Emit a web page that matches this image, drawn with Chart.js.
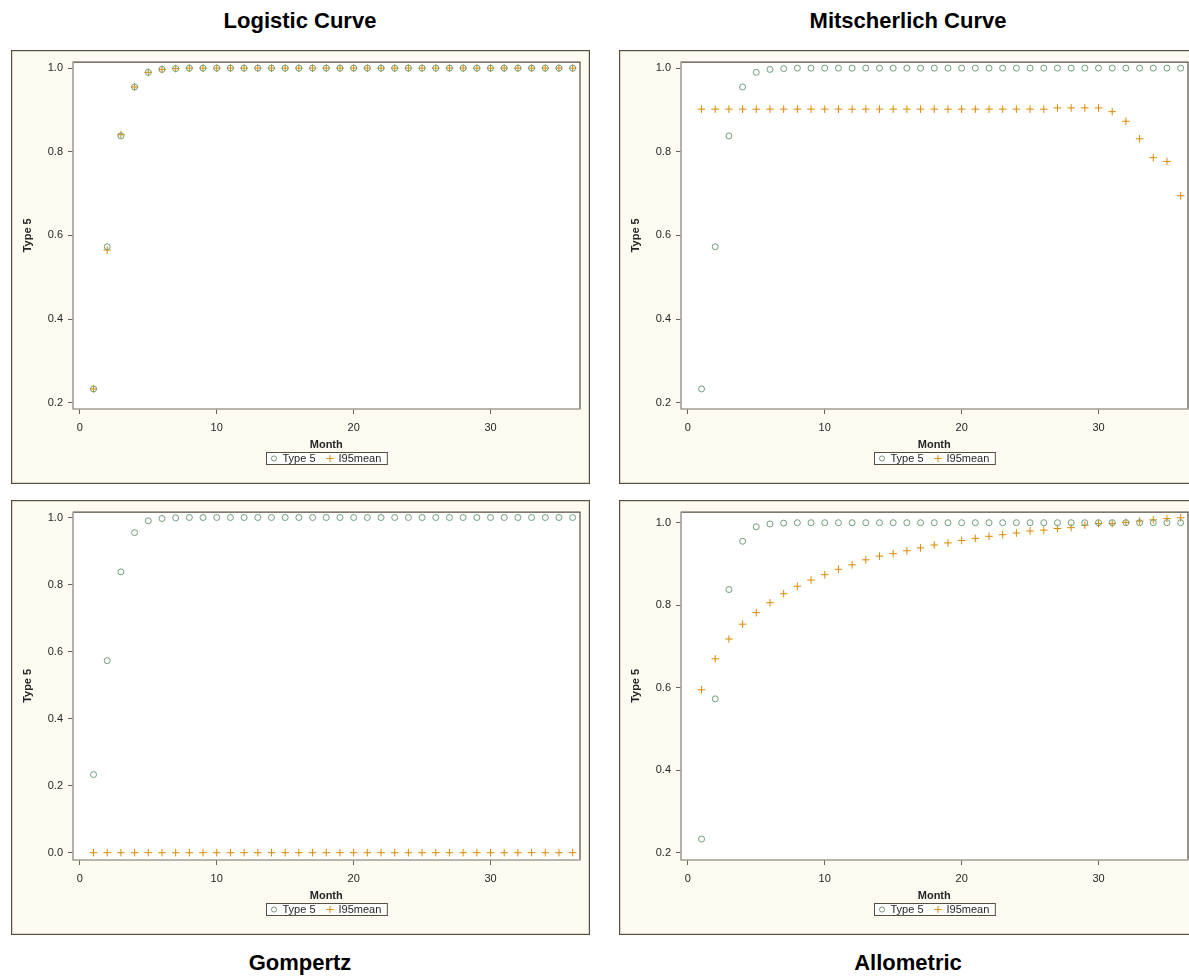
<!DOCTYPE html>
<html>
<head>
<meta charset="utf-8">
<script src="https://cdn.jsdelivr.net/npm/chart.js@4/dist/chart.umd.min.js"></script>
<style>
  html, body { margin: 0; padding: 0; background: #ffffff; }
  body { width: 1189px; height: 976px; overflow: hidden; position: relative;
         font-family: "Liberation Sans", Arial, sans-serif; }
  .ttl { position: absolute; width: 578px; text-align: center; font-weight: bold;
         font-size: 22px; line-height: 22px; color: #000; }
  canvas { position: absolute; }
</style>
</head>
<body>
<div class="ttl" style="left:11px; top:10px;">Logistic Curve</div>
<div class="ttl" style="left:619px; top:10px;">Mitscherlich Curve</div>
<div class="ttl" style="left:11px; top:952px;">Gompertz</div>
<div class="ttl" style="left:619px; top:952px;">Allometric</div>

<canvas id="logistic" width="579" height="434" style="left:11px; top:50px;"></canvas>
<canvas id="mitscherlich" width="579" height="434" style="left:619px; top:50px;"></canvas>
<canvas id="gompertz" width="579" height="435" style="left:11px; top:500px;"></canvas>
<canvas id="allometric" width="579" height="435" style="left:619px; top:500px;"></canvas>

<script>
// Month index shared by every panel
const months = [1, 2, 3, 4, 5, 6, 7, 8, 9, 10, 11, 12, 13, 14, 15, 16, 17, 18,
                19, 20, 21, 22, 23, 24, 25, 26, 27, 28, 29, 30, 31, 32, 33, 34, 35, 36];

// Observed proportion (Type 5)
const type5 = [0.233, 0.573, 0.838, 0.955, 0.990, 0.997, 0.999, 1.000, 1.000, 1.000,
               1.000, 1.000, 1.000, 1.000, 1.000, 1.000, 1.000, 1.000, 1.000, 1.000,
               1.000, 1.000, 1.000, 1.000, 1.000, 1.000, 1.000, 1.000, 1.000, 1.000,
               1.000, 1.000, 1.000, 1.000, 1.000, 1.000];

// Fitted mean (I95mean) for each growth model
const logisticMean = [0.233, 0.565, 0.841, 0.955, 0.990, 0.997, 0.999, 1.000, 1.000, 1.000,
                      1.000, 1.000, 1.000, 1.000, 1.000, 1.000, 1.000, 1.000, 1.000, 1.000,
                      1.000, 1.000, 1.000, 1.000, 1.000, 1.000, 1.000, 1.000, 1.000, 1.000,
                      1.000, 1.000, 1.000, 1.000, 1.000, 1.000];

const mitscherlichMean = [0.902, 0.902, 0.902, 0.902, 0.902, 0.902, 0.902, 0.902, 0.902, 0.902,
                          0.902, 0.902, 0.902, 0.902, 0.902, 0.902, 0.902, 0.902, 0.902, 0.902,
                          0.902, 0.902, 0.902, 0.902, 0.902, 0.902, 0.905, 0.905, 0.905, 0.905,
                          0.896, 0.873, 0.831, 0.786, 0.777, 0.695];

const gompertzMean = [0, 0, 0, 0, 0, 0, 0, 0, 0, 0, 0, 0, 0, 0, 0, 0, 0, 0,
                      0, 0, 0, 0, 0, 0, 0, 0, 0, 0, 0, 0, 0, 0, 0, 0, 0, 0];

const allometricMean = [0.595, 0.670, 0.718, 0.754, 0.782, 0.806, 0.828, 0.846, 0.861, 0.874,
                        0.887, 0.898, 0.910, 0.919, 0.925, 0.932, 0.939, 0.946, 0.951, 0.957,
                        0.962, 0.967, 0.971, 0.975, 0.980, 0.982, 0.986, 0.988, 0.994, 0.998,
                        0.998, 1.001, 1.004, 1.007, 1.010, 1.012];

// Tick labels
const xTicks = [0, 10, 20, 30];

const FONT = '"Liberation Sans", Arial, sans-serif';
const BEIGE = '#fdfaf2';
const FRAME = '#564e3e';
const AXIS = '#a49f94';
const TICK = '#6a655a';
const TEXT = '#262626';
const GREEN = '#6f9e7b';
const ORANGE = '#dc8a00';

// Panel background, plot frame and the boxed legend below the x-axis title
const panelDecor = {
  id: 'panelDecor',
  beforeDraw(chart) {
    const { ctx, width, height, chartArea: a } = chart;
    ctx.save();
    ctx.fillStyle = BEIGE;
    ctx.fillRect(0, 0, width, height);
    ctx.strokeStyle = FRAME;
    ctx.lineWidth = 1.2;
    ctx.strokeRect(0.6, 0.6, width - 1.2, height - 1.2);
    ctx.fillStyle = '#ffffff';
    ctx.fillRect(a.left, a.top, a.right - a.left, a.bottom - a.top);
    ctx.restore();
  },
  afterDraw(chart) {
    const { ctx, chartArea: a } = chart;
    ctx.save();
    // top and right edges of the plot area
    ctx.strokeStyle = FRAME;
    ctx.lineWidth = 1.2;
    ctx.beginPath();
    ctx.moveTo(a.left, a.top + 0.5);
    ctx.lineTo(a.right + 0.5, a.top + 0.5);
    ctx.lineTo(a.right + 0.5, a.bottom);
    ctx.stroke();
    // axis lines
    ctx.strokeStyle = AXIS;
    ctx.lineWidth = 1.6;
    ctx.beginPath();
    ctx.moveTo(a.left, a.top);
    ctx.lineTo(a.left, a.bottom);
    ctx.lineTo(a.right + 1, a.bottom);
    ctx.stroke();

    // legend
    const items = chart.data.datasets.map(ds => ({
      label: ds.label, style: ds.pointStyle, color: ds.borderColor
    }));
    ctx.font = '11px ' + FONT;
    const padL = 4, padR = 6, markW = 7, gapM = 5, gapItem = 11;
    let total = padL;
    items.forEach((it, i) => {
      total += markW + gapM + ctx.measureText(it.label).width + (i < items.length - 1 ? gapItem : 0);
    });
    total += padR;
    const x0 = Math.round((a.left + a.right) / 2 - total / 2) + 0.5;
    const y0 = Math.round(a.bottom + 43) + 0.5;
    const h = 12;
    ctx.fillStyle = '#ffffff';
    ctx.fillRect(x0, y0, total, h);
    ctx.strokeStyle = FRAME;
    ctx.lineWidth = 1;
    ctx.strokeRect(x0, y0, total, h);
    let x = x0 + padL;
    const cy = y0 + h / 2;
    items.forEach(it => {
      const mx = x + markW / 2;
      ctx.strokeStyle = it.color;
      ctx.lineWidth = 1;
      ctx.beginPath();
      if (it.style === 'circle') {
        ctx.arc(mx, cy, 2.6, 0, Math.PI * 2);
      } else {
        ctx.moveTo(mx - 3.5, cy); ctx.lineTo(mx + 3.5, cy);
        ctx.moveTo(mx, cy - 3.5); ctx.lineTo(mx, cy + 3.5);
      }
      ctx.stroke();
      x += markW + gapM;
      ctx.fillStyle = TEXT;
      ctx.textBaseline = 'middle';
      ctx.textAlign = 'left';
      ctx.fillText(it.label, x, cy + 0.5);
      x += ctx.measureText(it.label).width + gapItem;
    });
    ctx.restore();
  }
};

function points(vals) {
  return months.map((m, i) => ({ x: m, y: vals[i] }));
}

function makePanel(id, meanVals, yMin, yMax, plotTop, plotBottomGap) {
  const el = document.getElementById(id);
  return new Chart(el, {
    type: 'scatter',
    data: {
      datasets: [
        {
          label: 'Type 5',
          data: points(type5),
          pointStyle: 'circle',
          radius: 3,
          borderWidth: 1,
          borderColor: GREEN,
          backgroundColor: 'rgba(0,0,0,0)',
          clip: false
        },
        {
          label: 'I95mean',
          data: points(meanVals),
          pointStyle: 'cross',
          radius: 3.8,
          borderWidth: 1,
          borderColor: ORANGE,
          backgroundColor: ORANGE,
          clip: false
        }
      ]
    },
    options: {
      responsive: false,
      animation: false,
      events: [],
      devicePixelRatio: 1,
      layout: { padding: { top: plotTop, right: 10.5, left: 0, bottom: 0 } },
      plugins: {
        legend: { display: false },
        tooltip: { enabled: false },
        title: { display: false }
      },
      scales: {
        x: {
          type: 'linear',
          position: 'bottom',
          min: -0.5,
          max: 36.5,
          afterFit(scale) { scale.height = plotBottomGap; },
          afterBuildTicks(scale) {
            scale.ticks = xTicks.map(v => ({ value: v }));
          },
          ticks: {
            font: { family: FONT, size: 11 },
            color: TEXT,
            padding: 7,
            maxRotation: 0,
            callback: v => String(v)
          },
          grid: {
            display: true,
            drawOnChartArea: false,
            drawTicks: true,
            tickLength: 5,
            color: TICK,
            lineWidth: 1
          },
          border: { display: false },
          title: {
            display: true,
            text: 'Month',
            color: TEXT,
            font: { family: FONT, size: 11, weight: 'bold' },
            padding: { top: 0, bottom: 32 }
          }
        },
        y: {
          type: 'linear',
          position: 'left',
          min: yMin,
          max: yMax,
          afterFit(scale) { scale.width = 62; },
          ticks: {
            stepSize: 0.2,
            includeBounds: false,
            font: { family: FONT, size: 11 },
            color: TEXT,
            padding: 5,
            callback: v => (Math.abs(v) < 1e-9 ? 0 : v).toFixed(1)
          },
          grid: {
            display: true,
            drawOnChartArea: false,
            drawTicks: true,
            tickLength: 5,
            color: TICK,
            lineWidth: 1
          },
          border: { display: false },
          title: {
            display: true,
            text: 'Type 5',
            color: TEXT,
            font: { family: FONT, size: 11, weight: 'bold' },
            padding: { top: 10, bottom: 0 }
          }
        }
      }
    },
    plugins: [panelDecor]
  });
}

makePanel('logistic', logisticMean, 0.185, 1.0157, 10.7, 75);
makePanel('mitscherlich', mitscherlichMean, 0.185, 1.0157, 10.7, 75);
makePanel('gompertz', gompertzMean, -0.0218, 1.0173, 11.7, 75);
makePanel('allometric', allometricMean, 0.1823, 1.0267, 11.7, 75);
</script>
</body>
</html>
